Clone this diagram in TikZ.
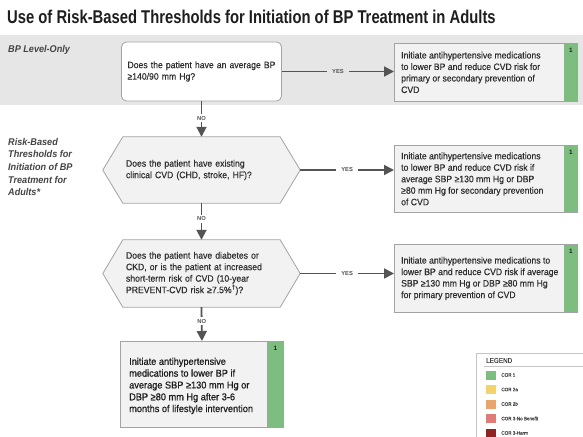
\documentclass[tikz,border=0pt]{standalone}
\usepackage{fontspec}
\setmainfont{Liberation Sans}
\newfontfamily\condfont{Liberation Sans}[FakeStretch=0.93,FakeBold=0.35]
\newfontfamily\condbold{Liberation Sans}[FakeStretch=0.93,FakeBold=0.7]
\newfontfamily\sidefont{Liberation Sans}[FakeStretch=0.93]
\newfontfamily\titlefont{Liberation Sans}[FakeStretch=0.80]
\usetikzlibrary{arrows.meta,calc}
\definecolor{band}{HTML}{E6E6E6}
\definecolor{boxfill}{HTML}{F2F2F2}
\definecolor{boxline}{HTML}{A3A3A3}
\definecolor{cor1}{HTML}{7DBD7F}
\definecolor{cor2a}{HTML}{F3D36C}
\definecolor{cor2b}{HTML}{E8A56E}
\definecolor{cor3nb}{HTML}{DE7C79}
\definecolor{cor3h}{HTML}{8E2424}
\definecolor{arrowc}{HTML}{545454}
\definecolor{txtc}{HTML}{2E2E2E}
\definecolor{titlec}{HTML}{1E1E1E}
\definecolor{sidec}{HTML}{444444}
\definecolor{legline}{HTML}{C4C4C4}
\begin{document}
\begin{tikzpicture}[x=1pt,y=-1pt,
  txt/.style={font=\condfont\fontsize{9.3}{11.5}\selectfont, text=txtc, align=left, inner sep=0pt},
  resbox/.style={draw=boxline, fill=boxfill, line width=0.8pt, anchor=north west, inner sep=0pt, minimum width=183pt},
  hexbox/.style={txt, minimum width=157pt, minimum height=66pt, text width=151pt, inner xsep=3pt},
  arr/.style={draw=arrowc, line width=1.8pt, -{Triangle[length=10pt,width=10pt]}},
  yes/.style={font=\bfseries\fontsize{5.8}{6}\selectfont, text=arrowc, inner xsep=5pt, inner ysep=2pt},
  onelab/.style={font=\bfseries\fontsize{6.3}{7}\selectfont, text=titlec, inner sep=0pt},
  side/.style={font=\sidefont\bfseries\itshape\fontsize{9.8}{12.6}\selectfont, text=sidec, align=left, inner sep=0pt},
  swatch/.style={minimum width=10pt, minimum height=9pt, inner sep=0pt},
  leglab/.style={font=\condfont\fontsize{4.9}{5.5}\selectfont, text=sidec, anchor=west, inner sep=0pt}
]
\useasboundingbox (0,0) rectangle (583,436);
\fill[white] (0,0) rectangle (583,436);
\fill[band] (0,35) rectangle (583,105);

% title
\node[anchor=base west, inner sep=0pt, font=\titlefont\bfseries\fontsize{18.5}{20}\selectfont, text=titlec] (title) at (7,24) {Use of Risk-Based Thresholds for Initiation of BP Treatment in Adults};

% side labels
\node[side, anchor=west] (lvl) at (8,50) {BP Level-Only};
\node[side, anchor=north west] (risk) at (8,138) {Risk-Based\\Thresholds for\\Initiation of BP\\Treatment for\\Adults*};

% box 1
\node[txt, draw=boxline, fill=white, line width=0.8pt, rounded corners=5pt, minimum width=160pt, minimum height=59pt, text width=148pt, inner xsep=6pt] (b1) at (201.5,71.5) {Does the patient have an average BP\\≥140/90 mm Hg?};

% hexagons
\node[hexbox] (h1) at (201.5,170) {};
\coordinate (h1r) at ([xshift=20pt]h1.east);
\coordinate (h1l) at ([xshift=-20pt]h1.west);
\filldraw[fill=boxfill, draw=boxline, line width=0.8pt] (h1.north west) -- (h1.north east) -- (h1r) -- (h1.south east) -- (h1.south west) -- (h1l) -- cycle;
\node[hexbox] (h1t) at (201.5,170) {Does the patient have existing\\clinical CVD (CHD, stroke, HF)?};

\node[hexbox, minimum height=67pt] (h2) at (201.5,273.5) {};
\coordinate (h2r) at ([xshift=20pt]h2.east);
\coordinate (h2l) at ([xshift=-20pt]h2.west);
\filldraw[fill=boxfill, draw=boxline, line width=0.8pt] (h2.north west) -- (h2.north east) -- (h2r) -- (h2.south east) -- (h2.south west) -- (h2l) -- cycle;
\node[hexbox] (h2t) at (201.5,273.5) {Does the patient have diabetes or\\CKD, or is the patient at increased\\short-term risk of CVD (10-year\\PREVENT-CVD risk ≥7.5\%\textsuperscript{†})?};

% result boxes
\node[resbox, minimum height=58pt] (r1) at (394,43) {};
\node[resbox, minimum height=67pt] (r2) at (394,145) {};
\node[resbox, minimum height=68pt] (r3) at (394,244) {};
\node[resbox, minimum width=163pt, minimum height=86pt] (r4) at (120,341) {};
\foreach \r/\w in {r1/14,r2/14,r3/14,r4/17}{
  \fill[cor1] ([xshift=-\w pt]\r.north east) rectangle (\r.south east);
  \draw[boxline, line width=0.8pt] (\r.north west) rectangle (\r.south east);
  \node[onelab] (\r n) at ([xshift=-\w pt/2, yshift=-7pt]\r.north east) {1};
}
\node[txt, anchor=west] (r1t) at ([xshift=7pt]r1.west) {Initiate antihypertensive medications\\to lower BP and reduce CVD risk for\\primary or secondary prevention of\\CVD};
\node[txt, anchor=west] (r2t) at ([xshift=7pt]r2.west) {Initiate antihypertensive medications\\to lower BP and reduce CVD risk if\\average SBP ≥130 mm Hg or DBP\\≥80 mm Hg for secondary prevention\\of CVD};
\node[txt, anchor=west] (r3t) at ([xshift=7pt]r3.west) {Initiate antihypertensive medications to\\lower BP and reduce CVD risk if average\\SBP ≥130 mm Hg or DBP ≥80 mm Hg\\for primary prevention of CVD};
\node[txt, anchor=west, font=\condbold\fontsize{9.9}{11.8}\selectfont, text=titlec] (r4t) at ([xshift=9pt,yshift=-1.5pt]r4.west) {Initiate antihypertensive\\medications to lower BP if\\average SBP ≥130 mm Hg or\\DBP ≥80 mm Hg after 3-6\\months of lifestyle intervention};

% connectors
\draw[arr] (b1.east) -- node[yes, fill=band] {YES} (b1.east -| r1.west);
\draw[arr] (h1r) -- node[yes, fill=white] {YES} (h1r -| r2.west);
\draw[arr] (h2r) -- node[yes, fill=white] {YES} (h2r -| r3.west);
\draw[arr] (b1.south) -- node[yes, fill=white, pos=0.48] {NO} (h1.north);
\draw[arr] (h1.south) -- node[yes, fill=white, pos=0.42] {NO} (h2.north);
\draw[arr] (h2.south) -- node[yes, fill=white, pos=0.42] {NO} (r4.north);

% legend
\node[draw=legline, fill=white, line width=0.7pt, anchor=north west, minimum width=120pt, minimum height=95pt] (leg) at (476,353) {};
\node[anchor=west, inner sep=0pt, font=\condfont\fontsize{6.8}{7}\selectfont, text=sidec] (legt) at (486,360.5) {LEGEND};
\draw[legline, line width=0.7pt] (484,366) -- (leg.east |- 0,366);
\node[swatch, fill=cor1] (s1) at (491,375) {};
\node[swatch, fill=cor2a] (s2) at (491,389.5) {};
\node[swatch, fill=cor2b] (s3) at (491,404) {};
\node[swatch, fill=cor3nb] (s4) at (491,418.5) {};
\node[swatch, fill=cor3h] (s5) at (491,433) {};
\node[leglab] (l1) at ([xshift=5pt]s1.east) {COR 1};
\node[leglab] (l2) at ([xshift=5pt]s2.east) {COR 2a};
\node[leglab] (l3) at ([xshift=5pt]s3.east) {COR 2b};
\node[leglab] (l4) at ([xshift=5pt]s4.east) {COR 3-No Benefit};
\node[leglab] (l5) at ([xshift=5pt]s5.east) {COR 3-Harm};
\end{tikzpicture}
\end{document}
